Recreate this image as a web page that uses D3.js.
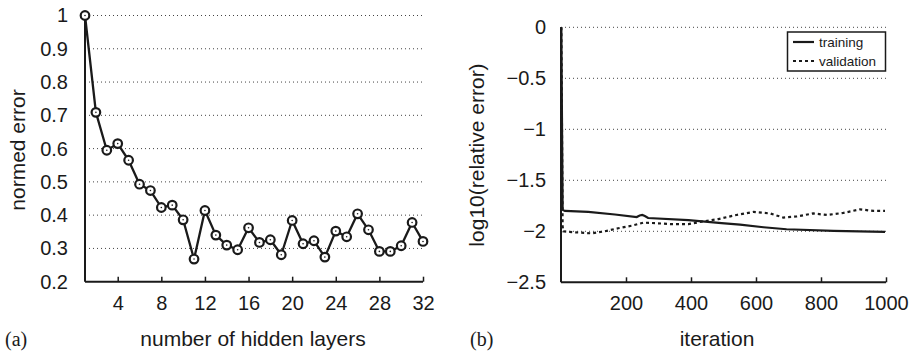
<!DOCTYPE html>
<html><head><meta charset="utf-8">
<script src="https://cdn.jsdelivr.net/npm/d3@7"></script>
<style>
body{margin:0;background:#fff;}
svg{display:block;}
text{font-family:"Liberation Sans",Arial,Helvetica,sans-serif;fill:#1a1a1a;}
</style></head><body>
<svg id="c" width="910" height="353"></svg>
<script>
// ---- data: panel (a)
const layers = [1,2,3,4,5,6,7,8,9,10,11,12,13,14,15,16,17,18,19,20,21,22,23,24,25,26,27,28,29,30,31,32];
const normedError = [1.0,0.709,0.595,0.615,0.565,0.493,0.474,0.423,0.43,0.386,0.268,0.414,0.34,0.31,0.296,0.362,0.318,0.326,0.281,0.384,0.314,0.323,0.274,0.352,0.335,0.404,0.356,0.291,0.291,0.308,0.378,0.321];
const aXTicks = [4,8,12,16,20,24,28,32];
const aYTicks = [0.2,0.3,0.4,0.5,0.6,0.7,0.8,0.9,1];
const aYLabels = ["0.2","0.3","0.4","0.5","0.6","0.7","0.8","0.9","1"];
// ---- data: panel (b)
const trainIter = [1,5,12,84,166,233,242,250,258,268,392,494,551,623,694,838,997];
const trainVal  = [0,-1.79,-1.80,-1.81,-1.835,-1.86,-1.845,-1.84,-1.85,-1.87,-1.89,-1.92,-1.935,-1.96,-1.98,-1.995,-2.005];
const valIter = [1,5,7,43,94,135,176,218,254,290,341,392,433,484,540,592,643,684,725,776,818,869,920,961,997];
const valVal  = [0,-1.95,-2.0,-2.01,-2.02,-2.0,-1.97,-1.945,-1.915,-1.92,-1.93,-1.93,-1.905,-1.88,-1.84,-1.81,-1.825,-1.865,-1.855,-1.825,-1.84,-1.82,-1.785,-1.80,-1.80];
const bXTicks = [200,400,600,800,1000];
const bYTicks = [-2.5,-2,-1.5,-1,-0.5,0];
const bYLabels = ["\u22122.5","\u22122","\u22121.5","\u22121","\u22120.5","0"];
const legendNames = ["training","validation"];

const svg = d3.select("#c");
const ink = "#1a1a1a";
const FS = 20;

function panel(opt){
  const g = svg.append("g");
  const x = opt.x, y = opt.y;
  const [x0,x1] = x.range(), [y0,y1] = y.range();
  // gridlines
  g.selectAll(".grid").data(opt.yTicks.filter(v=>v!==opt.yTicks[0])).join("line")
    .attr("x1",x0).attr("x2",x1).attr("y1",d=>y(d)).attr("y2",d=>y(d))
    .attr("stroke","#444").attr("stroke-width",1).attr("stroke-dasharray","1,3");
  // axes
  const xa = d3.axisBottom(x).tickValues(opt.xTicks).tickSize(-5).tickPadding(14).tickFormat(d=>d);
  const ax = g.append("g").attr("transform",`translate(0,${y0})`).call(xa);
  ax.select(".domain").attr("stroke",ink).attr("stroke-width",2).attr("d",`M${x0},0H${x1}`);
  ax.selectAll(".tick line").attr("stroke",ink).attr("stroke-width",1.5);
  ax.selectAll("text").attr("font-size",FS).attr("fill",ink).attr("font-family","Liberation Sans, Arial, sans-serif");
  const ya = d3.axisLeft(y).tickValues(opt.yTicks).tickSize(0).tickPadding(opt.ypad)
    .tickFormat((d,i)=>opt.yLabels[i]);
  const ay = g.append("g").attr("transform",`translate(${x0},0)`).call(ya);
  ay.select(".domain").attr("stroke",ink).attr("stroke-width",2).attr("d",`M0,${y0}V${y1}`);
  ay.selectAll("text").attr("font-size",FS).attr("fill",ink).attr("font-family","Liberation Sans, Arial, sans-serif");
  // titles
  g.append("text").attr("x",opt.xtitleX).attr("y",346).attr("text-anchor","middle")
    .attr("font-size",FS+1).text(opt.xtitle);
  g.append("text").attr("transform",`translate(${opt.ytitleX},${opt.ytitleY}) rotate(-90)`)
    .attr("text-anchor","middle").attr("font-size",FS+1).text(opt.ytitle);
  g.append("text").attr("x",opt.tagX).attr("y",346).attr("font-size",FS)
    .style("font-family","'Liberation Serif','Times New Roman',serif").text(opt.tag);
  return g;
}

// panel (a)
const xa = d3.scaleLinear().domain([1,32]).range([85,423]);
const ya = d3.scaleLinear().domain([0.2,1]).range([281.7,15.5]);
const ga = panel({x:xa,y:ya,xTicks:aXTicks,yTicks:aYTicks,yLabels:aYLabels,ypad:17,
  xtitle:"number of hidden layers",xtitleX:253,ytitle:"normed error",ytitleX:25,ytitleY:150,tag:"(a)",tagX:5});
const ptsA = layers.map((l,i)=>[l,normedError[i]]);
ga.append("path").datum(ptsA)
  .attr("d",d3.line().x(d=>xa(d[0])).y(d=>ya(d[1])))
  .attr("fill","none").attr("stroke",ink).attr("stroke-width",2.3).attr("stroke-linejoin","round");
ga.selectAll("circle").data(ptsA).join("circle")
  .attr("cx",d=>xa(d[0])).attr("cy",d=>ya(d[1])).attr("r",4.3)
  .attr("fill","#fff").attr("stroke",ink).attr("stroke-width",2.2);
ga.selectAll("circle.dot").data(ptsA).join("circle").attr("class","dot")
  .attr("cx",d=>xa(d[0])).attr("cy",d=>ya(d[1])).attr("r",0.8).attr("fill",ink);

// panel (b)
const xb = d3.scaleLinear().domain([0,1000]).range([561,886]);
const yb = d3.scaleLinear().domain([-2.5,0]).range([282.3,27.3]);
const gb = panel({x:xb,y:yb,xTicks:bXTicks,yTicks:bYTicks,yLabels:bYLabels,ypad:15,
  xtitle:"iteration",xtitleX:717,ytitle:"log10(relative error)",ytitleX:484,ytitleY:155,tag:"(b)",tagX:470});
const lineB = d3.line().x(d=>xb(d[0])).y(d=>yb(d[1]));
gb.append("path").datum(trainIter.map((t,i)=>[t,trainVal[i]])).attr("d",lineB)
  .attr("fill","none").attr("stroke",ink).attr("stroke-width",2.2);
gb.append("path").datum(valIter.map((t,i)=>[t,valVal[i]])).attr("d",lineB)
  .attr("fill","none").attr("stroke",ink).attr("stroke-width",2.2).attr("stroke-dasharray","3,3");

// legend
const lg = gb.append("g");
lg.append("rect").attr("x",787.5).attr("y",32).attr("width",98).attr("height",39)
  .attr("fill","#fff").attr("stroke",ink).attr("stroke-width",1.5);
legendNames.forEach((n,i)=>{
  const yy = 42 + i*19;
  lg.append("line").attr("x1",793).attr("x2",814).attr("y1",yy).attr("y2",yy)
    .attr("stroke",ink).attr("stroke-width",2.2).attr("stroke-dasharray",i?"3,3":null);
  lg.append("text").attr("x",819).attr("y",yy+4.5).attr("font-size",13.5).text(n);
});
</script></body></html>
